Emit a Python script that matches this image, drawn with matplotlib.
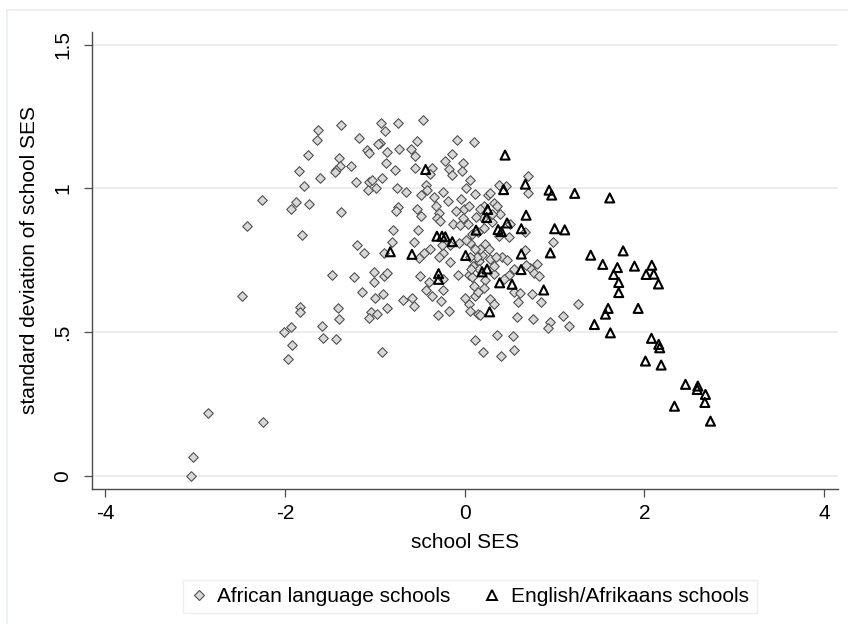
import matplotlib
matplotlib.use("Agg")
import matplotlib.pyplot as plt
from matplotlib.lines import Line2D

plt.rcParams['font.family'] = ['Liberation Sans', 'DejaVu Sans']

# African language schools (diamonds)
african_x = [
    -3.04, -3.02, -2.86, -2.24, -2.48, -2.42, -2.26,
    -1.63, -1.64, -1.37, -0.93, -0.74, -0.46, -0.89, -1.18, -0.94, -0.96,
    -0.53, -0.09, 0.11, -1.09, -1.06, -0.86, -0.73, -0.60, -0.55, -1.74,
    -1.40, -1.39, -1.43, -1.44, -1.26, -1.84, -1.61, -1.785, -1.88, -1.93,
    -1.73, -1.37, -1.81, -1.21, -1.06, -1.03, -1.08, -0.99, -0.92, -0.88,
    -0.77, -0.75, -0.65, -0.55, -0.36, -0.38, -0.22, -0.145, -0.02, -0.17,
    -0.14, -0.03, 0.056, 0.015, -0.43, -0.415, -0.48, -0.34, -0.24, -0.32,
    -0.185, -0.045, -0.01, 0.05, -0.096, -0.53, -0.746, -0.76, -0.49, -0.29,
    -0.31, -0.27, -0.126, -0.048, -0.018, 0.037, -0.80, -0.52, -0.81, -0.56,
    -1.20, -1.125, -0.90, -0.457, -0.51, -0.38, -0.24, -0.16, -0.25, -0.29,
    -0.16, 0.056, 0.156, -1.48, -1.23, -1.01, -1.006, -0.894, -0.865, -0.493,
    -0.40, -0.24, 0.045, 0.082,
    -1.143, -0.998, -0.913, -1.83, -1.83, -1.93, -2.008, -1.922, -1.967,
    -1.592, -1.581, -1.429, -1.414, -1.396, -1.039, -1.065, -0.976, -0.864,
    -0.92, -0.686, -0.582, -0.568, -0.43, -0.363, -0.241, -0.263, -0.178,
    -0.301, 0.0, 0.045, 0.111, 0.063, 0.149, 0.111,
    0.702, 0.386, 0.464, 0.705, 0.256, 0.279, 0.323, 0.212, 0.397, 0.509,
    0.305, 0.205, 0.219, 0.49, 0.676, 0.379, 0.98, 0.676, 0.23, 0.416,
    0.472, 0.286, 0.354, 0.193, 0.806, 0.724, 0.687, 0.776, 0.825, 0.546,
    0.49, 0.323, 0.231, 0.435, 0.212, 0.286, 0.323, 0.546, 0.62, 0.746,
    0.594, 0.851, 1.263, 0.583, 0.761, 0.954, 0.928, 1.091, 1.158, 0.175,
    0.361, 0.539, 0.205, 0.405, 0.55, 0.174,
    0.09, 0.14, 0.16, 0.12, 0.08, 0.13, 0.02, 0.10, 0.15, 0.06,
    -0.06, 0.12, 0.27, 0.33, 0.31, 0.17, 0.07, -0.07, 0.36, 0.15,
]
african_y = [
    0.0, 0.067, 0.218, 0.189, 0.626, 0.869, 0.959,
    1.203, 1.17, 1.22, 1.229, 1.228, 1.237, 1.2, 1.177, 1.159, 1.153,
    1.165, 1.17, 1.16, 1.133, 1.122, 1.127, 1.138, 1.138, 1.112, 1.115,
    1.105, 1.078, 1.064, 1.057, 1.079, 1.061, 1.035, 1.009, 0.953, 0.927,
    0.945, 0.918, 0.837, 1.024, 1.024, 1.029, 0.994, 1.002, 1.038, 1.09,
    1.064, 1.003, 0.988, 1.071, 1.072, 1.049, 1.095, 1.119, 1.088, 1.068,
    1.046, 1.06, 1.031, 1.003, 1.011, 0.994, 0.977, 0.969, 0.988, 0.938,
    0.957, 0.962, 0.93, 0.938, 0.921, 0.93, 0.934, 0.922, 0.904, 0.913,
    0.896, 0.886, 0.878, 0.872, 0.896, 0.875, 0.857, 0.857, 0.815, 0.815,
    0.803, 0.776, 0.774, 0.776, 0.757, 0.788, 0.776, 0.803, 0.803, 0.76,
    0.745, 0.809, 0.747, 0.699, 0.693, 0.71, 0.675, 0.697, 0.705, 0.695,
    0.675, 0.686, 0.699, 0.691,
    0.641, 0.62, 0.632, 0.589, 0.571, 0.519, 0.502, 0.455, 0.408,
    0.521, 0.481, 0.476, 0.583, 0.545, 0.571, 0.55, 0.562, 0.583,
    0.432, 0.612, 0.62, 0.591, 0.647, 0.626, 0.647, 0.609, 0.575,
    0.56, 0.62, 0.597, 0.627, 0.575, 0.563, 0.473,
    1.045, 1.011, 1.008, 0.985, 0.976, 0.985, 0.948, 0.938, 0.911, 0.878,
    0.884, 0.899, 0.861, 0.832, 0.847, 0.834, 0.814, 0.786, 0.808, 0.762,
    0.753, 0.756, 0.762, 0.767, 0.737, 0.725, 0.733, 0.707, 0.696, 0.721,
    0.7, 0.702, 0.683, 0.686, 0.653, 0.617, 0.6, 0.641, 0.635, 0.633,
    0.604, 0.605, 0.597, 0.554, 0.546, 0.535, 0.516, 0.557, 0.523, 0.56,
    0.49, 0.487, 0.432, 0.418, 0.438, 0.788,
    0.73, 0.76, 0.72, 0.79, 0.84, 0.90, 0.82, 0.66, 0.64, 0.76,
    0.81, 0.98, 0.79, 0.73, 0.91, 0.93, 0.72, 0.70, 0.94, 0.85,
]

# English/Afrikaans schools (triangles)
english_x = [
    -0.434, 0.256, 0.245, 0.127, 0.372, 0.409, -0.308, -0.252, -0.215,
    -0.137, -0.827, -0.586, 0.011, -0.29, -0.29, 0.194, 0.25, 0.39, 0.278,
    0.45, 0.676, 0.434, 0.94, 0.969, 1.225, 1.615, 0.684, 0.472, 0.631,
    1.002, 1.114, 0.631, 0.954, 1.403, 1.764, 1.537, 1.7, 1.89, 2.083,
    1.659, 2.02, 2.105, 1.715, 2.157, 1.715, 0.628, 0.528, 0.88, 1.931,
    1.597, 1.567, 1.444, 1.622, 2.079, 2.16, 2.171, 2.012, 2.187, 2.458,
    2.595, 2.588, 2.68, 2.673, 2.335, 2.736,
]
english_y = [
    1.066, 0.927, 0.899, 0.855, 0.857, 0.85, 0.834, 0.834, 0.832,
    0.815, 0.78, 0.771, 0.767, 0.704, 0.684, 0.71, 0.72, 0.672, 0.571,
    1.116, 1.015, 0.996, 0.994, 0.977, 0.983, 0.967, 0.907, 0.88, 0.86,
    0.86, 0.856, 0.772, 0.776, 0.768, 0.783, 0.736, 0.725, 0.73, 0.733,
    0.701, 0.701, 0.702, 0.673, 0.668, 0.638, 0.718, 0.667, 0.647, 0.583,
    0.583, 0.563, 0.527, 0.498, 0.479, 0.458, 0.446, 0.4, 0.386, 0.319,
    0.313, 0.301, 0.284, 0.256, 0.243, 0.191,
]

x_ticks = [-4, -2, 0, 2, 4]
y_ticks = [0, 0.5, 1, 1.5]
y_tick_labels = ['0', '.5', '1', '1.5']

fig = plt.figure(figsize=(8.48, 6.24), dpi=100)
fig.patch.set_facecolor('white')
ax = fig.add_axes([0.108, 0.2163, 0.88, 0.7329])

grid_col = '#e4ecef'
axis_col = '#4a4a4a'

for yv in y_ticks:
    ax.axhline(yv, color=grid_col, lw=1.2, zorder=0)

ax.scatter(african_x, african_y, marker='D', s=24, facecolor='#d8d8d8',
           edgecolor='#505050', linewidth=0.8, zorder=2)
ax.scatter(english_x, english_y, marker='^', s=42, facecolor='none',
           edgecolor='black', linewidth=1.5, zorder=3)

ax.set_xlim(-4.151, 4.153)
ax.set_ylim(-0.045, 1.545)
ax.set_xticks(x_ticks)
ax.set_xticklabels([str(t) for t in x_ticks])
ax.set_yticks(y_ticks)
ax.set_yticklabels(y_tick_labels, rotation=90, va='center')

for side in ['top', 'right']:
    ax.spines[side].set_visible(False)
for side in ['left', 'bottom']:
    ax.spines[side].set_color(axis_col)
    ax.spines[side].set_linewidth(1.0)
ax.tick_params(axis='both', length=6, width=0.9, color=axis_col,
               labelsize=15, labelcolor='black')
ax.tick_params(axis='x', pad=5)
ax.tick_params(axis='y', pad=8)

ax.set_xlabel('school SES', fontsize=15, labelpad=7)
ax.set_ylabel('standard deviation of school SES', fontsize=15, labelpad=10)

handles = [
    Line2D([], [], marker='D', ls='none', markersize=5, markerfacecolor='#d8d8d8',
           markeredgecolor='#505050', markeredgewidth=0.8),
    Line2D([], [], marker='^', ls='none', markersize=6.5, markerfacecolor='none',
           markeredgecolor='black', markeredgewidth=1.4),
]
leg = fig.legend(handles, ['African language schools', 'English/Afrikaans schools'],
                 loc='center', bbox_to_anchor=(0.554, 0.044), ncol=2,
                 fontsize=15, frameon=True, fancybox=False, handlelength=0.8,
                 handletextpad=0.5, columnspacing=1.6, borderpad=0.35,
                 borderaxespad=0)
leg.get_frame().set_edgecolor(grid_col)
leg.get_frame().set_linewidth(1.0)

# faint outer border of the graph region
fig.add_artist(Line2D([0.0086, 0.0086], [0.0, 0.984], transform=fig.transFigure,
                      color='#e8eef0', lw=1.2))
fig.add_artist(Line2D([0.0086, 1.0], [0.984, 0.984], transform=fig.transFigure,
                      color='#e8eef0', lw=1.2))

fig.savefig('out.png', dpi=100)
